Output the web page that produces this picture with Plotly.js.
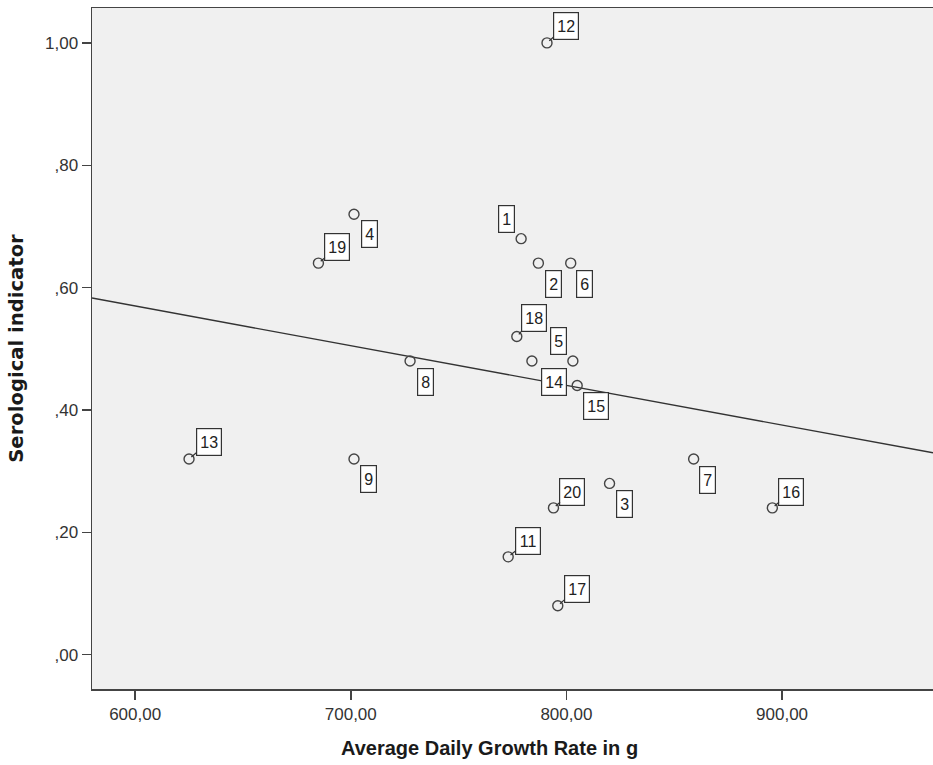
<!DOCTYPE html>
<html>
<head>
<meta charset="utf-8">
<script src="https://cdn.plot.ly/plotly-3.0.1.min.js"></script>
<style>html,body{margin:0;padding:0;background:#fff;}#chart{width:933px;height:765px;}</style>
</head>
<body>
<div id="chart"></div>
<script>
// Case labels, growth rate (g/day) and serological indicator
const caseIds = ["1","2","3","4","5","6","7","8","9","11","12","13","14","15","16","17","18","19","20"];
const growthRate = [779, 787, 820, 701.5, 803, 802, 859, 727.5, 701.5, 773, 791, 625, 784, 805, 895.5, 796, 777, 685, 794];
const serology   = [0.68, 0.64, 0.28, 0.72, 0.48, 0.64, 0.32, 0.48, 0.32, 0.16, 1.00, 0.32, 0.48, 0.44, 0.24, 0.08, 0.52, 0.64, 0.24];

// Fitted regression line
const fitX = [580, 970];
const fitY = [0.583, 0.330];

// Tick labels
const xTickVals = [600, 700, 800, 900];
const xTickText = ["600,00", "700,00", "800,00", "900,00"];
const yTickVals = [0, 0.2, 0.4, 0.6, 0.8, 1.0];
const yTickText = [",00", ",20", ",40", ",60", ",80", "1,00"];

// Axis titles
const xTitle = "Average Daily Growth Rate in g";
const yTitle = "Serological indicator";

// Label placement: [dx, dy, connector]
const labelPos = {
  "1": [-15, -20, false], "2": [15, 21, false], "3": [15, 21, false], "4": [15, 20, false],
  "5": [-14, -20, false], "6": [14, 21, false], "7": [14, 21, false], "8": [15, 21, false],
  "9": [14, 20, false], "11": [20, -16, true], "12": [19, -17, true], "13": [20, -17, true],
  "14": [22, 21, false], "15": [19, 20, false], "16": [19, -16, true], "17": [19, -17, true],
  "18": [17, -19, true], "19": [19, -16, true], "20": [19, -16, true]
};

const sans = "Arial, Liberation Sans, sans-serif";

const annotations = caseIds.map((id, i) => {
  const p = labelPos[id];
  const base = {
    x: growthRate[i], y: serology[i], xref: "x", yref: "y",
    text: id,
    font: {family: sans, size: 16, color: "#222"},
    bordercolor: "#333", borderwidth: 1.2, borderpad: 2, bgcolor: "#ffffff",
    width: id.length > 1 ? 20 : 11, height: 22
  };
  if (p[2]) {
    return Object.assign(base, {showarrow: true, arrowhead: 0, arrowwidth: 1.2, arrowcolor: "#333",
      ax: p[0], ay: p[1], standoff: 3});
  }
  return Object.assign(base, {showarrow: false, xshift: p[0], yshift: -p[1]});
});

// x-axis title (placed as in the original, slightly left of the plot centre)
annotations.push({
  text: xTitle, xref: "paper", yref: "paper", x: 0.473, y: -0.0866,
  xanchor: "center", yanchor: "middle", showarrow: false,
  font: {size: 20, color: "#1a1a1a", family: sans, weight: "bold"}
});

const traces = [
  {x: fitX, y: fitY, mode: "lines", type: "scatter",
   line: {color: "#333", width: 1.4}, hoverinfo: "skip", showlegend: false},
  {x: growthRate, y: serology, mode: "markers", type: "scatter",
   marker: {symbol: "circle-open", size: 10, color: "#444", line: {width: 1.4, color: "#444"}},
   showlegend: false}
];

const layout = {
  width: 933, height: 765,
  margin: {l: 92, r: 0, t: 8, b: 76},
  paper_bgcolor: "#ffffff", plot_bgcolor: "#f0f0f0",
  showlegend: false,
  font: {family: sans, color: "#333"},
  xaxis: {
    range: [580, 970], showgrid: false, zeroline: false,
    tickmode: "array", tickvals: xTickVals, ticktext: xTickText,
    ticks: "outside", ticklen: 9, tickwidth: 1.5, tickcolor: "#444",
    tickfont: {size: 17, color: "#333"},
    showline: true, linecolor: "#444", linewidth: 1.5, mirror: true
  },
  yaxis: {
    range: [-0.056, 1.057], showgrid: false, zeroline: false,
    tickmode: "array", tickvals: yTickVals, ticktext: yTickText,
    ticks: "outside", ticklen: 9, tickwidth: 1.5, tickcolor: "#444",
    tickfont: {size: 17, color: "#333"},
    showline: true, linecolor: "#444", linewidth: 1.5,
    title: {text: yTitle, standoff: 16,
            font: {size: 19.6, color: "#1a1a1a", family: "DejaVu Sans, Arial, sans-serif", weight: "bold"}}
  },
  annotations: annotations
};

Plotly.newPlot("chart", traces, layout, {displayModeBar: false, staticPlot: true});
</script>
</body>
</html>
